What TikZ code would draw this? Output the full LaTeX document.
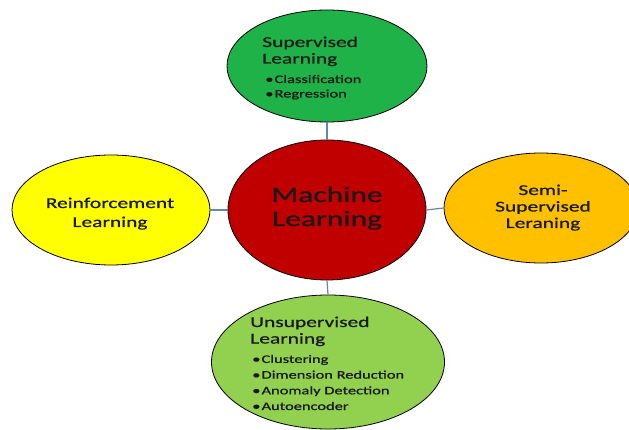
\documentclass[tikz,border=0pt]{standalone}
\usepackage{fontspec}
\setmainfont{Carlito}[FakeBold=0.7]
\usetikzlibrary{shapes.geometric}

\definecolor{mlred}{RGB}{192,0,0}
\definecolor{supgreen}{RGB}{30,178,72}
\definecolor{unsupgreen}{RGB}{146,208,80}
\definecolor{rlyellow}{RGB}{255,255,0}
\definecolor{semiorange}{RGB}{255,192,0}
\definecolor{linkblue}{RGB}{100,135,175}

\newcommand{\itm}[1]{\makebox[6.5pt][l]{\textbullet}#1}

\tikzset{
  blob/.style={ellipse, draw=black, line width=.8pt, inner sep=0pt},
  link/.style={draw=linkblue, line width=1.2pt},
  txt/.style={xscale=1.43, inner sep=0pt, text=black!90}
}

\begin{document}
\begin{tikzpicture}[x=1pt, y=-1pt]
    \fill [white] (0, 0) rectangle (629, 430);
    \useasboundingbox (0, 0) rectangle (629, 430);

    % the five bubbles
    \node [blob, fill=mlred, minimum width=198pt, minimum height=140pt] (ml) at (327, 210) {};
    \node [blob, fill=supgreen, minimum width=200pt, minimum height=112pt] (sup) at (327, 66) {};
    \node [blob, fill=rlyellow, minimum width=198pt, minimum height=110pt] (rl) at (111, 210) {};
    \node [blob, fill=semiorange, minimum width=194pt, minimum height=110pt] (semi) at (541, 208) {};
    \node [blob, fill=unsupgreen, minimum width=233pt, minimum height=134pt] (unsup) at (328, 362) {};

    \draw [link] (sup.south) -- (ml.north);
    \draw [link] (ml.south) -- (unsup.north);
    \draw [link] (rl.east) -- (ml.west);
    \draw [link] (ml.east) -- (semi.west);

    % labels (base = baseline of the last line)
    \node [txt, align=center, anchor=base, font=\fontsize{22}{24}\selectfont] (mltext) at (327, 226) {Machine\\Learning};
    \node [txt, align=center, anchor=base, font=\fontsize{15}{19}\selectfont] (rltext) at (110, 227) {Reinforcement\\Learning};
    \node [txt, align=center, anchor=base, font=\fontsize{15}{16.5}\selectfont] (semitext) at (543, 228) {Semi-\\Supervised\\Leraning};

    \node [txt, align=left, anchor=base west, font=\fontsize{15}{16.5}\selectfont] (suphead) at (262, 63.5) {Supervised\\Learning};
    \node [txt, align=left, anchor=base west, font=\fontsize{11.5}{14.5}\selectfont] (suplist) at (265, 97.5) {\itm{Classification}\\\itm{Regression}};

    \node [txt, align=left, anchor=base west, font=\fontsize{15}{16.5}\selectfont] (unsuphead) at (250, 343.5) {Unsupervised\\Learning};
    \node [txt, align=left, anchor=base west, font=\fontsize{11.5}{15.7}\selectfont] (unsuplist) at (252, 410) {\itm{Clustering}\\\itm{Dimension Reduction}\\\itm{Anomaly Detection}\\\itm{Autoencoder}};
\end{tikzpicture}
\end{document}
